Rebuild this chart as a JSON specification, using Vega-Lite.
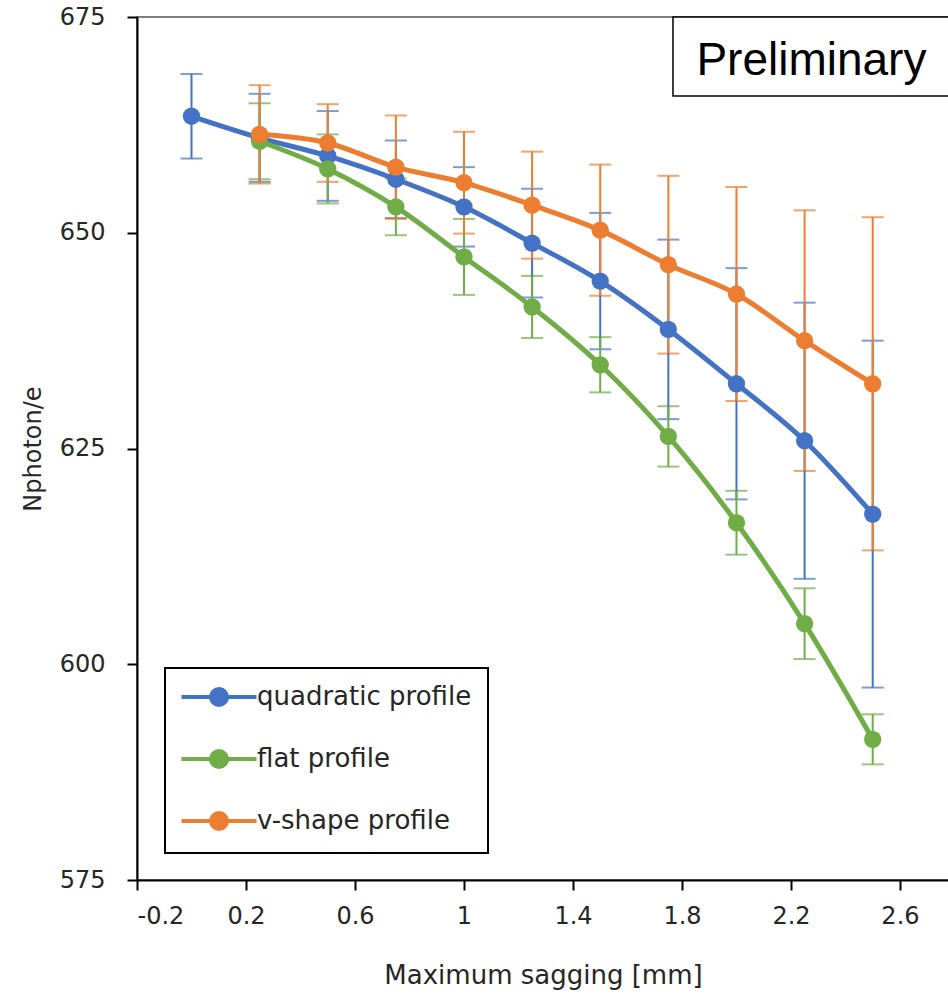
{
  "$schema": "https://vega.github.io/schema/vega-lite/v6.json",
  "width": 812,
  "height": 863,
  "autosize": {"type": "none"},
  "padding": {"left": 137, "top": 17, "right": 0, "bottom": 115},
  "background": "white",
  "config": {
    "view": {"stroke": "#555", "strokeWidth": 1.5},
    "font": "DejaVu Sans",
    "axis": {
      "grid": false,
      "domainColor": "#000",
      "domainWidth": 2,
      "tickColor": "#000",
      "tickWidth": 2,
      "tickSize": 10,
      "labelFontSize": 24,
      "labelColor": "#262626",
      "titleFontSize": 26,
      "titleFontWeight": "normal",
      "titleColor": "#262626"
    }
  },
  "datasets": {
    "series": [
      {"series": "quadratic profile", "x": 0, "value": 663.5, "err": 4.9},
      {"series": "quadratic profile", "x": 0.25, "value": 661.0, "err": 5.1},
      {"series": "quadratic profile", "x": 0.5, "value": 658.9, "err": 5.2},
      {"series": "quadratic profile", "x": 0.75, "value": 656.2, "err": 4.5},
      {"series": "quadratic profile", "x": 1.0, "value": 653.0, "err": 4.6},
      {"series": "quadratic profile", "x": 1.25, "value": 648.8, "err": 6.3},
      {"series": "quadratic profile", "x": 1.5, "value": 644.4, "err": 7.9},
      {"series": "quadratic profile", "x": 1.75, "value": 638.8, "err": 10.4},
      {"series": "quadratic profile", "x": 2.0, "value": 632.5, "err": 13.4},
      {"series": "quadratic profile", "x": 2.25, "value": 625.9, "err": 16.0},
      {"series": "quadratic profile", "x": 2.5, "value": 617.4, "err": 20.1},
      {"series": "flat profile", "x": 0.25, "value": 660.6, "err": 4.4},
      {"series": "flat profile", "x": 0.5, "value": 657.4, "err": 4.0},
      {"series": "flat profile", "x": 0.75, "value": 653.0, "err": 3.3},
      {"series": "flat profile", "x": 1.0, "value": 647.2, "err": 4.4},
      {"series": "flat profile", "x": 1.25, "value": 641.4, "err": 3.6},
      {"series": "flat profile", "x": 1.5, "value": 634.7, "err": 3.2},
      {"series": "flat profile", "x": 1.75, "value": 626.4, "err": 3.5},
      {"series": "flat profile", "x": 2.0, "value": 616.4, "err": 3.7},
      {"series": "flat profile", "x": 2.25, "value": 604.7, "err": 4.1},
      {"series": "flat profile", "x": 2.5, "value": 591.3, "err": 2.9},
      {"series": "v-shape profile", "x": 0.25, "value": 661.4, "err": 5.7},
      {"series": "v-shape profile", "x": 0.5, "value": 660.4, "err": 4.5},
      {"series": "v-shape profile", "x": 0.75, "value": 657.6, "err": 6.0},
      {"series": "v-shape profile", "x": 1.0, "value": 655.8, "err": 5.9},
      {"series": "v-shape profile", "x": 1.25, "value": 653.2, "err": 6.2},
      {"series": "v-shape profile", "x": 1.5, "value": 650.3, "err": 7.6},
      {"series": "v-shape profile", "x": 1.75, "value": 646.3, "err": 10.3},
      {"series": "v-shape profile", "x": 2.0, "value": 642.9, "err": 12.4},
      {"series": "v-shape profile", "x": 2.25, "value": 637.5, "err": 15.1},
      {"series": "v-shape profile", "x": 2.5, "value": 632.5, "err": 19.3}
    ],
    "box": [{"x": 1.767, "xEnd": 2.9, "y": 675, "yEnd": 665.85}],
    "note": [{"x": 2.275, "y": 668.3, "label": "Preliminary"}]
  },
  "layer": [
    {
      "data": {"name": "series"},
      "mark": {"type": "errorbar", "thickness": 2, "ticks": {"size": 22, "thickness": 2}},
      "encoding": {
        "x": {"field": "x", "type": "quantitative", "title": "Maximum sagging [mm]"},
        "y": {"field": "value", "type": "quantitative", "title": "Nphoton/e"},
        "yError": {"field": "err"},
        "color": {"field": "series", "type": "nominal"}
      }
    },
    {
      "data": {"name": "series"},
      "mark": {"type": "line", "strokeWidth": 5, "interpolate": "monotone"},
      "encoding": {
        "x": {"field": "x", "type": "quantitative", "title": "Maximum sagging [mm]"},
        "y": {"field": "value", "type": "quantitative", "title": "Nphoton/e"},
        "color": {"field": "series", "type": "nominal"}
      }
    },
    {
      "data": {"name": "series"},
      "mark": {"type": "point", "filled": true, "size": 300, "opacity": 1},
      "encoding": {
        "x": {
          "field": "x", "type": "quantitative",
          "title": "Maximum sagging [mm]",
          "scale": {"domain": [-0.2, 2.78], "nice": false, "zero": false},
          "axis": {
            "values": [-0.2, 0.2, 0.6, 1, 1.4, 1.8, 2.2, 2.6],
            "labelExpr": "'' + datum.value",
            "labelPadding": 14,
            "titlePadding": 34
          }
        },
        "y": {
          "field": "value", "type": "quantitative",
          "title": "Nphoton/e",
          "scale": {"domain": [575, 675], "nice": false, "zero": false},
          "axis": {
            "titleFontSize": 24,
            "values": [575, 600, 625, 650, 675],
            "labelPadding": 22,
            "titlePadding": 14
          }
        },
        "color": {
          "field": "series", "type": "nominal",
          "scale": {
            "domain": ["quadratic profile", "flat profile", "v-shape profile"],
            "range": ["#4472C4", "#70AD47", "#ED7D31"]
          },
          "legend": {
            "title": null,
            "orient": "none",
            "legendX": 28,
            "legendY": 651,
            "padding": 16,
            "strokeColor": "#000",
            "fillColor": "white",
            "labelFontSize": 26,
            "labelColor": "#262626",
            "labelLimit": 500,
            "symbolType": "M-3.75,0L3.75,0M-0.8,0A0.8,0.8,0,1,1,0.8,0A0.8,0.8,0,1,1,-0.8,0Z",
            "symbolSize": 400,
            "symbolStrokeWidth": 4,
            "symbolOpacity": 1,
            "symbolOffset": 25,
            "labelOffset": 25,
            "rowPadding": 30,
            "encode": {
              "legend": {"update": {"strokeWidth": {"value": 2}}},
              "symbols": {
                "update": {
                  "fill": {"scale": "color", "field": "value"},
                  "stroke": {"scale": "color", "field": "value"},
                  "strokeWidth": {"value": 4},
                  "opacity": {"value": 1}
                }
              }
            }
          }
        }
      }
    },
    {
      "data": {"name": "box"},
      "mark": {"type": "rect", "fill": "white", "stroke": "#000", "strokeWidth": 1.5},
      "encoding": {
        "x": {"field": "x", "type": "quantitative"},
        "x2": {"field": "xEnd"},
        "y": {"field": "y", "type": "quantitative"},
        "y2": {"field": "yEnd"}
      }
    },
    {
      "data": {"name": "note"},
      "mark": {"type": "text", "font": "Liberation Sans", "fontSize": 46, "color": "#000", "align": "center", "baseline": "alphabetic"},
      "encoding": {
        "x": {"field": "x", "type": "quantitative"},
        "y": {"field": "y", "type": "quantitative"},
        "text": {"field": "label"}
      }
    }
  ]
}
